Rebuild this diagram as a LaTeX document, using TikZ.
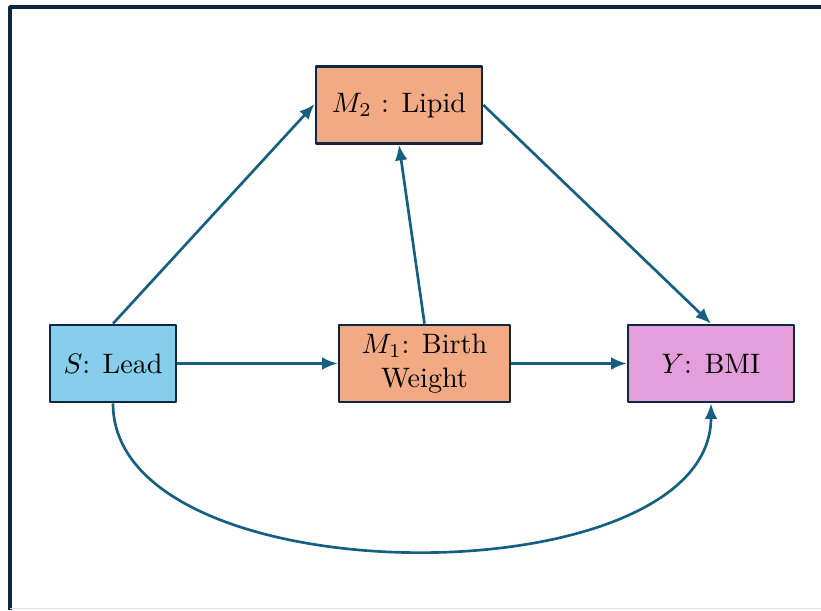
\documentclass[tikz,border=0pt]{standalone}
\usetikzlibrary{arrows.meta}

\definecolor{edgeblue}{HTML}{156082}
\definecolor{boxline}{HTML}{0E2841}
\definecolor{leadfill}{HTML}{86CEEB}
\definecolor{medfill}{HTML}{F2AA84}
\definecolor{bmifill}{HTML}{E49EDB}

\begin{document}
\def\myunit{0.0125cm}

\begin{tikzpicture}[x=\myunit, y=-\myunit, line join=bevel,
>={Latex[length=5.5pt,width=4.5pt]},
var/.style={draw=boxline, line width=0.95pt, align=center, inner sep=0pt,
  minimum height=0.9625cm},
path/.style={->, draw=edgeblue, line width=0.95pt},
]
\useasboundingbox (0,0) rectangle (821,610);
% frame
\draw[boxline, line width=1.2pt] (10,610) -- (10,7) -- (821,7);
\draw[black!12, line width=0.3pt] (10,608.5) -- (821,608.5);

\node[var, fill=leadfill, minimum width=1.575cm](s) at (113,363.5) {$S$: Lead};
\node[var, fill=medfill, minimum width=2.1375cm](m1) at (424.5,363.5) {$M_1$: Birth\\Weight};
\node[var, fill=medfill, minimum width=2.075cm](m2) at (399,105) {$M_2$ : Lipid};
\node[var, fill=bmifill, minimum width=2.075cm](y) at (711,363.5) {$Y$: BMI};

\draw[path] (s.north) -- (m2.west |- 0,104) ;
\draw[path] (m1.north) -- (m2.south) ;
\draw[path] (m2.east) -- (y.north) ;
\draw[path] (s) -- (m1) ;
\draw[path] (m1) -- (y) ;
\draw[path] (s.south) .. controls (113,600) and (711,600) .. (y.south) ;
\end{tikzpicture}
\end{document}
